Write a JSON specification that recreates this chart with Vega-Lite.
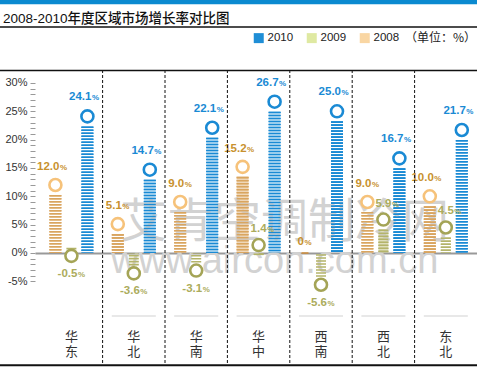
{
  "$schema": "https://vega.github.io/schema/vega-lite/v6.json",
  "width": 477,
  "height": 368,
  "autosize": {"type": "none"},
  "padding": 0,
  "background": "white",
  "config": {"view": {"stroke": null}},
  "title": {"text": "2008-2010年度区域市场增长率对比图", "anchor": "start", "frame": "group", "offset": -37, "baseline": "alphabetic", "font": "Liberation Sans, Noto Sans CJK SC", "fontSize": 13.5, "fontWeight": 500, "color": "#111", "dx": 3},
  "datasets": {
    "vals": [
      {"region": "华东", "year": "2008", "value": 12.0, "label": "12.0"},
      {"region": "华东", "year": "2009", "value": -0.5, "label": "-0.5"},
      {"region": "华东", "year": "2010", "value": 24.1, "label": "24.1"},
      {"region": "华北", "year": "2008", "value": 5.1, "label": "5.1"},
      {"region": "华北", "year": "2009", "value": -3.6, "label": "-3.6"},
      {"region": "华北", "year": "2010", "value": 14.7, "label": "14.7"},
      {"region": "华南", "year": "2008", "value": 9.0, "label": "9.0"},
      {"region": "华南", "year": "2009", "value": -3.1, "label": "-3.1"},
      {"region": "华南", "year": "2010", "value": 22.1, "label": "22.1"},
      {"region": "华中", "year": "2008", "value": 15.2, "label": "15.2"},
      {"region": "华中", "year": "2009", "value": 1.4, "label": "1.4"},
      {"region": "华中", "year": "2010", "value": 26.7, "label": "26.7"},
      {"region": "西南", "year": "2008", "value": 0, "label": "0"},
      {"region": "西南", "year": "2009", "value": -5.6, "label": "-5.6"},
      {"region": "西南", "year": "2010", "value": 25.0, "label": "25.0"},
      {"region": "西北", "year": "2008", "value": 9.0, "label": "9.0"},
      {"region": "西北", "year": "2009", "value": 5.9, "label": "5.9"},
      {"region": "西北", "year": "2010", "value": 16.7, "label": "16.7"},
      {"region": "东北", "year": "2008", "value": 10.0, "label": "10.0"},
      {"region": "东北", "year": "2009", "value": 4.5, "label": "4.5"},
      {"region": "东北", "year": "2010", "value": 21.7, "label": "21.7"}
    ],
    "regions": [
      {"region": "华东", "name": "华\n东"},
      {"region": "华北", "name": "华\n北"},
      {"region": "华南", "name": "华\n南"},
      {"region": "华中", "name": "华\n中"},
      {"region": "西南", "name": "西\n南"},
      {"region": "西北", "name": "西\n北"},
      {"region": "东北", "name": "东\n北"}
    ],
    "one": [{"k": 1}]
  },
  "data": {"name": "vals"},
  "resolve": {"axis": {"y": "independent"}},
  "layer": [
    {
      "layer": [
        {
          "transform": [{"filter": "datum.value > 0"}],
          "mark": {"type": "rule", "strokeDash": [1.6, 1.4], "strokeCap": "butt", "yOffset": 10},
          "encoding": {
            "x": {"field": "region", "type": "nominal", "scale": {"domain": ["华东", "华北", "华南", "华中", "西南", "西北", "东北"], "range": [35, 477], "paddingInner": 0, "paddingOuter": 0.0417, "align": 1}, "axis": {"orient": "bottom", "offset": -115, "domainColor": "#999", "domainWidth": 2, "labels": false, "ticks": false, "title": null, "grid": false}},
            "xOffset": {"field": "year", "type": "nominal", "scale": {"domain": ["2008", "2009", "2010"], "paddingInner": 0, "paddingOuter": 0.45}},
            "y": {"field": "value", "type": "quantitative", "scale": {"domain": [-19.94, 32.29], "range": [366, 70], "nice": false, "zero": false}, "axis": {"orient": "left", "offset": -35, "values": [-5, 0, 5, 10, 15, 20, 25, 30], "domain": false, "grid": false, "tickColor": "#999", "tickSize": 5, "labelExpr": "datum.value + '%'", "labelFont": "Liberation Sans", "labelFontSize": 11, "labelColor": "#333", "labelPadding": 3, "labelOverlap": false, "title": null}},
            "y2": {"datum": 0},
            "stroke": {"condition": [{"test": "datum.year === '2010'", "value": "#1a8ad4"}, {"test": "datum.year === '2009'", "value": "#b4b46a"}], "value": "#d9a560"},
            "strokeWidth": {"condition": {"test": "datum.year === '2009'", "value": 10}, "value": 12}
          }
        },
        {
          "data": {"name": "one"},
          "mark": {"type": "text", "text": "艾肯空调制冷网", "font": "Noto Sans CJK SC", "fontSize": 47, "color": "#d2d2d2", "align": "center", "baseline": "middle", "dx": 26},
          "encoding": {
            "x": {"datum": "华中", "type": "nominal"},
            "y": {"datum": 5.3, "type": "quantitative"}
          }
        },
        {
          "data": {"name": "one"},
          "mark": {"type": "text", "text": "www.aircon.com.cn", "font": "Liberation Sans", "fontSize": 38, "color": "#d2d2d2", "align": "center", "baseline": "alphabetic", "dx": 16},
          "encoding": {
            "x": {"datum": "华中", "type": "nominal"},
            "y": {"datum": -3.5, "type": "quantitative"}
          }
        },
        {
          "transform": [{"filter": "datum.value < 0"}],
          "mark": {"type": "rule", "strokeDash": [1.6, 1.4], "strokeCap": "butt", "yOffset": -8},
          "encoding": {
            "x": {"field": "region", "type": "nominal"},
            "xOffset": {"field": "year", "type": "nominal"},
            "y": {"field": "value", "type": "quantitative"},
            "y2": {"datum": 0},
            "stroke": {"value": "#b4b46a"},
            "strokeWidth": {"value": 10}
          }
        },
        {
          "transform": [{"filter": "datum.value > 0"}],
          "mark": {"type": "rule", "strokeDash": [1.6, 1.4], "strokeCap": "butt", "yOffset": 10},
          "encoding": {
            "x": {"field": "region", "type": "nominal"},
            "xOffset": {"field": "year", "type": "nominal"},
            "y": {"field": "value", "type": "quantitative"},
            "y2": {"datum": 0},
            "stroke": {"condition": [{"test": "datum.year === '2010'", "value": "#1a8ad4"}, {"test": "datum.year === '2009'", "value": "#b4b46a"}], "value": "#d9a560"},
            "strokeWidth": {"condition": {"test": "datum.year === '2009'", "value": 10}, "value": 12}
          }
        },
        {
          "transform": [{"filter": "datum.value === 0"}],
          "mark": {"type": "tick", "orient": "horizontal", "size": 7, "thickness": 2, "color": "#d08a30"},
          "encoding": {
            "x": {"field": "region", "type": "nominal"},
            "xOffset": {"field": "year", "type": "nominal"},
            "y": {"field": "value", "type": "quantitative"}
          }
        },
        {
          "transform": [{"filter": "datum.value !== 0"}],
          "mark": {"type": "point", "shape": "circle", "size": 144, "strokeWidth": 2.6, "fill": "white", "filled": false, "opacity": 1},
          "encoding": {
            "x": {"field": "region", "type": "nominal"},
            "xOffset": {"field": "year", "type": "nominal"},
            "y": {"field": "value", "type": "quantitative"},
            "stroke": {"condition": [{"test": "datum.year === '2010'", "value": "#1a8ad4"}, {"test": "datum.year === '2009'", "value": "#a4a456"}], "value": "#f6c27a"}
          }
        },
        {
          "mark": {"type": "point", "shape": "square", "filled": true, "opacity": 0},
          "encoding": {
            "x": {"field": "region", "type": "nominal"},
            "y": {"field": "value", "type": "quantitative"},
            "fill": {"field": "year", "type": "nominal", "scale": {"domain": ["2010", "2009", "2008"], "range": ["#1f8ed6", "#dfe9a2", "#f9d6a3"]},
              "legend": {"orient": "none", "legendX": 253, "legendY": 32, "direction": "horizontal", "title": "（单位：%）", "titleOrient": "right", "titleFont": "Noto Sans CJK SC", "titleFontSize": 12, "titleFontWeight": "normal", "titleColor": "#222", "titlePadding": 6, "labelFont": "Liberation Sans", "labelFontSize": 11.5, "labelColor": "#222", "labelOffset": 3, "columnPadding": 12, "symbolType": "square", "symbolSize": 100, "symbolStrokeWidth": 0, "symbolOpacity": 1, "padding": 0}}
          }
        },
        {
          "transform": [{"filter": "datum.year === '2010'"}],
          "mark": {"type": "text", "align": "right", "baseline": "alphabetic", "dx": 4, "dy": -16, "font": "Liberation Sans", "fontSize": 11.5, "fontWeight": "bold", "color": "#1a8ad4"},
          "encoding": {"x": {"field": "region", "type": "nominal"}, "xOffset": {"field": "year", "type": "nominal"}, "y": {"field": "value", "type": "quantitative"}, "text": {"field": "label"}}
        },
        {
          "transform": [{"filter": "datum.year === '2010'"}],
          "mark": {"type": "text", "text": "%", "align": "left", "baseline": "alphabetic", "dx": 4.5, "dy": -16, "font": "Liberation Sans", "fontSize": 8, "fontWeight": "bold", "color": "#1a8ad4"},
          "encoding": {"x": {"field": "region", "type": "nominal"}, "xOffset": {"field": "year", "type": "nominal"}, "y": {"field": "value", "type": "quantitative"}}
        },
        {
          "transform": [{"filter": "datum.year === '2008' && datum.value > 0"}],
          "mark": {"type": "text", "align": "right", "baseline": "alphabetic", "dx": 4, "dy": -15, "font": "Liberation Sans", "fontSize": 11.5, "fontWeight": "bold", "color": "#c8912e"},
          "encoding": {"x": {"field": "region", "type": "nominal"}, "xOffset": {"field": "year", "type": "nominal"}, "y": {"field": "value", "type": "quantitative"}, "text": {"field": "label"}}
        },
        {
          "transform": [{"filter": "datum.year === '2008' && datum.value > 0"}],
          "mark": {"type": "text", "text": "%", "align": "left", "baseline": "alphabetic", "dx": 4.5, "dy": -15, "font": "Liberation Sans", "fontSize": 8, "fontWeight": "bold", "color": "#c8912e"},
          "encoding": {"x": {"field": "region", "type": "nominal"}, "xOffset": {"field": "year", "type": "nominal"}, "y": {"field": "value", "type": "quantitative"}}
        },
        {
          "transform": [{"filter": "datum.year === '2008' && datum.value === 0"}],
          "mark": {"type": "text", "align": "right", "baseline": "alphabetic", "dx": -1, "dy": -8, "font": "Liberation Sans", "fontSize": 11.5, "fontWeight": "bold", "color": "#c8912e"},
          "encoding": {"x": {"field": "region", "type": "nominal"}, "xOffset": {"field": "year", "type": "nominal"}, "y": {"field": "value", "type": "quantitative"}, "text": {"field": "label"}}
        },
        {
          "transform": [{"filter": "datum.year === '2008' && datum.value === 0"}],
          "mark": {"type": "text", "text": "%", "align": "left", "baseline": "alphabetic", "dx": -0.5, "dy": -8, "font": "Liberation Sans", "fontSize": 8, "fontWeight": "bold", "color": "#c8912e"},
          "encoding": {"x": {"field": "region", "type": "nominal"}, "xOffset": {"field": "year", "type": "nominal"}, "y": {"field": "value", "type": "quantitative"}}
        },
        {
          "transform": [{"filter": "datum.year === '2009' && datum.value > 0"}],
          "mark": {"type": "text", "align": "right", "baseline": "alphabetic", "dx": 8, "dy": -13, "font": "Liberation Sans", "fontSize": 11.5, "fontWeight": "bold", "color": "#acac5c"},
          "encoding": {"x": {"field": "region", "type": "nominal"}, "xOffset": {"field": "year", "type": "nominal"}, "y": {"field": "value", "type": "quantitative"}, "text": {"field": "label"}}
        },
        {
          "transform": [{"filter": "datum.year === '2009' && datum.value > 0"}],
          "mark": {"type": "text", "text": "%", "align": "left", "baseline": "alphabetic", "dx": 8.5, "dy": -13, "font": "Liberation Sans", "fontSize": 8, "fontWeight": "bold", "color": "#acac5c"},
          "encoding": {"x": {"field": "region", "type": "nominal"}, "xOffset": {"field": "year", "type": "nominal"}, "y": {"field": "value", "type": "quantitative"}}
        },
        {
          "transform": [{"filter": "datum.year === '2009' && datum.value < 0"}],
          "mark": {"type": "text", "align": "right", "baseline": "alphabetic", "dx": 6, "dy": 21, "font": "Liberation Sans", "fontSize": 11.5, "fontWeight": "bold", "color": "#acac5c"},
          "encoding": {"x": {"field": "region", "type": "nominal"}, "xOffset": {"field": "year", "type": "nominal"}, "y": {"field": "value", "type": "quantitative"}, "text": {"field": "label"}}
        },
        {
          "transform": [{"filter": "datum.year === '2009' && datum.value < 0"}],
          "mark": {"type": "text", "text": "%", "align": "left", "baseline": "alphabetic", "dx": 6.5, "dy": 21, "font": "Liberation Sans", "fontSize": 8, "fontWeight": "bold", "color": "#acac5c"},
          "encoding": {"x": {"field": "region", "type": "nominal"}, "xOffset": {"field": "year", "type": "nominal"}, "y": {"field": "value", "type": "quantitative"}}
        },
        {
          "data": {"name": "regions"},
          "transform": [{"filter": "datum.region !== '华东'"}],
          "mark": {"type": "rule", "strokeDash": [3, 2], "color": "#111", "strokeWidth": 1},
          "encoding": {
            "x": {"field": "region", "type": "nominal", "bandPosition": 0},
            "y": {"datum": 32.29},
            "y2": {"datum": -19.94}
          }
        },
        {
          "data": {"name": "regions"},
          "transform": [{"filter": "datum.region !== '华东'"}],
          "mark": {"type": "tick", "orient": "horizontal", "size": 44, "thickness": 1, "color": "#bdbdbd"},
          "encoding": {
            "x": {"field": "region", "type": "nominal"},
            "y": {"datum": -11.1}
          }
        },
        {
          "data": {"name": "regions"},
          "mark": {"type": "text", "lineBreak": "\n", "lineHeight": 15, "font": "Noto Sans CJK SC", "fontSize": 13, "color": "#333", "align": "center", "baseline": "middle"},
          "encoding": {
            "x": {"field": "region", "type": "nominal"},
            "y": {"datum": -14.8},
            "text": {"field": "name"}
          }
        },
        {
          "data": {"name": "one"},
          "mark": {"type": "rule", "color": "#0b8ad0", "strokeWidth": 4.5},
          "encoding": {"y": {"datum": 44.29}}
        },
        {
          "data": {"name": "one"},
          "mark": {"type": "rule", "color": "#111", "strokeWidth": 1.5},
          "encoding": {"y": {"datum": 39.88}}
        },
        {
          "data": {"name": "one"},
          "mark": {"type": "rule", "color": "#111", "strokeWidth": 1.5},
          "encoding": {"y": {"datum": 32.2}}
        },
        {
          "data": {"name": "one"},
          "mark": {"type": "rule", "color": "#111", "strokeWidth": 2},
          "encoding": {"y": {"datum": -19.8}}
        }
      ]
    },
    {
      "data": {"name": "one"},
      "mark": {"type": "rule", "opacity": 0},
      "encoding": {
        "y": {"datum": 0, "type": "quantitative", "axis": {"orient": "left", "offset": -35, "values": [-4, -3, -2, -1, 1, 2, 3, 4, 6, 7, 8, 9, 11, 12, 13, 14, 16, 17, 18, 19, 21, 22, 23, 24, 26, 27, 28, 29], "labels": false, "domain": false, "grid": false, "tickColor": "#999", "tickSize": 5, "title": null}}
      }
    }
  ]
}
